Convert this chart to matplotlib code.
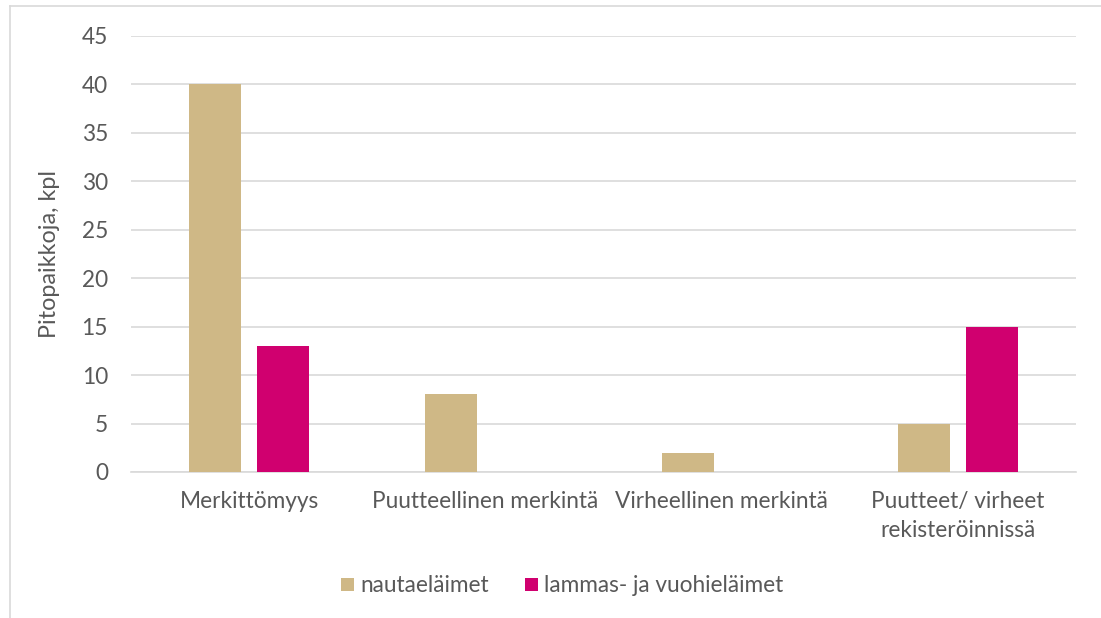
import numpy as np
import matplotlib.pyplot as plt
from matplotlib.lines import Line2D

# Tiedot
kategoriat = ["Merkittömyys", "Puutteellinen merkintä", "Virheellinen merkintä",
              "Puutteet/ virheet\nrekisteröinnissä"]
nauta = [40, 8, 2, 5]
lammas = [13, 0, 0, 15]
sarjat = ["nautaeläimet", "lammas- ja vuohieläimet"]
yticks = [0, 5, 10, 15, 20, 25, 30, 35, 40, 45]

vari_nauta = "#CFB886"
vari_lammas = "#D0006F"
harmaa = "#595959"

plt.rcParams['font.family'] = ['Lato', 'DejaVu Sans']

fig = plt.figure(figsize=(11.01, 6.18), dpi=100)
ax = fig.add_axes([131/1101, 1-472/618, (1076-131)/1101, (472-36)/618])

x = np.arange(len(kategoriat))
lev = 0.22
ax.bar(x - 0.144, nauta, lev, color=vari_nauta, label=sarjat[0], zorder=3)
ax.bar(x + 0.144, lammas, lev, color=vari_lammas, label=sarjat[1], zorder=3)

ax.set_xlim(-0.5, len(kategoriat) - 0.5)
ax.set_ylim(0, 45)
ax.set_yticks(yticks)
ax.yaxis.grid(True, color="#D9D9D9", linewidth=1.2, zorder=0)
ax.set_axisbelow(True)
for s in ["top", "right", "left"]:
    ax.spines[s].set_visible(False)
ax.spines["bottom"].set_color("#D9D9D9")
ax.spines["bottom"].set_linewidth(1.2)
ax.tick_params(axis="both", length=0, labelsize=16.3, colors=harmaa)
ax.tick_params(axis="y", pad=16.5)
ax.tick_params(axis="x", pad=14)
ax.set_xticks(x)
ax.set_xticklabels(kategoriat, linespacing=1.45)
ax.set_ylabel("Pitopaikkoja, kpl", fontsize=16.8, color=harmaa)
ax.yaxis.set_label_coords((60 - 131) / (1076 - 131), 0.5)

# kehys (vain vasen ja ylä reuna näkyvissä)
fig.add_artist(Line2D([10/1101, 10/1101], [0, 1-6/618], color="#D9D9D9", lw=1.2,
                      transform=fig.transFigure))
fig.add_artist(Line2D([10/1101, 1], [1-6/618, 1-6/618], color="#D9D9D9", lw=1.2,
                      transform=fig.transFigure))

fig.legend(loc="center", bbox_to_anchor=(562/1101, 1-586/618), ncol=2, frameon=False,
           fontsize=16.3, labelcolor=harmaa, handlelength=0.57, handleheight=0.57,
           handletextpad=0.27, columnspacing=1.6)

plt.savefig("out.png", dpi=100)
